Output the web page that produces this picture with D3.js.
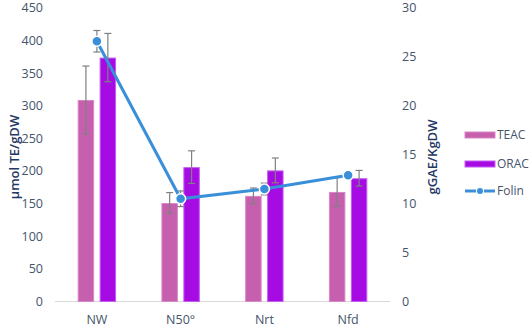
<!DOCTYPE html>
<html>
<head>
<meta charset="utf-8">
<script src="https://cdn.jsdelivr.net/npm/d3@7"></script>
<style>
  body { margin: 0; background: #fff; }
  text { font-family: "Open Sans", "Noto Sans", sans-serif; }
</style>
</head>
<body>
<div id="chart"></div>
<script>
// data
const categories = ["NW", "N50°", "Nrt", "Nfd"];
const teac = [309, 151, 162, 168];
const teacErr = [52, 16, 12, 22];
const orac = [374, 206, 201, 189];
const oracErr = [37, 25, 19, 12];
const folin = [26.6, 10.5, 11.5, 12.9];
const folinErr = [1.1, 0.8, 0.6, 0.3];
const leftTicks = [0, 50, 100, 150, 200, 250, 300, 350, 400, 450];
const rightTicks = [0, 5, 10, 15, 20, 25, 30];

const width = 532, height = 329;
const plot = { left: 55, right: 390, top: 8, bottom: 301.5 };
const fs = "12.5px";

const svg = d3.select("#chart").append("svg")
  .attr("width", width)
  .attr("height", height);

// scales
const x = d3.scaleBand()
  .domain(categories)
  .range([plot.left, plot.right])
  .padding(0);

const groupW = 38.4;
const xSub = d3.scaleBand()
  .domain(["TEAC", "ORAC"])
  .range([(x.bandwidth() - groupW) / 2, (x.bandwidth() + groupW) / 2])
  .paddingInner(0.25)
  .paddingOuter(0);

const yL = d3.scaleLinear().domain([0, 450]).range([plot.bottom, plot.top]);
const yR = d3.scaleLinear().domain([0, 30]).range([plot.bottom, plot.top]);

const tickColor = "#44546a";
const titleColor = "#1f3864";

// left axis labels
svg.append("g")
  .selectAll("text")
  .data(leftTicks)
  .enter().append("text")
    .attr("x", 43)
    .attr("y", d => yL(d))
    .attr("dy", "0.35em")
    .attr("text-anchor", "end")
    .attr("font-size", fs)
    .attr("fill", tickColor)
    .text(d => d);

// right axis labels
svg.append("g")
  .selectAll("text")
  .data(rightTicks)
  .enter().append("text")
    .attr("x", 402)
    .attr("y", d => yR(d))
    .attr("dy", "0.35em")
    .attr("text-anchor", "start")
    .attr("font-size", fs)
    .attr("fill", tickColor)
    .text(d => d);

// axis titles
svg.append("text")
  .attr("transform", "translate(14,157) rotate(-90)")
  .attr("dy", "0.35em")
  .attr("text-anchor", "middle")
  .attr("font-size", "13px")
  .attr("font-weight", 600)
  .attr("fill", titleColor)
  .text("μmol TE/gDW");

svg.append("text")
  .attr("transform", "translate(432,157) rotate(-90)")
  .attr("dy", "0.35em")
  .attr("text-anchor", "middle")
  .attr("font-size", "13px")
  .attr("font-weight", 600)
  .attr("fill", titleColor)
  .text("gGAE/KgDW");

// baseline
svg.append("line")
  .attr("x1", plot.left).attr("x2", plot.right)
  .attr("y1", plot.bottom).attr("y2", plot.bottom)
  .attr("stroke", "#d9d9d9")
  .attr("stroke-width", 1);

// category labels
svg.append("g")
  .selectAll("text")
  .data(categories)
  .enter().append("text")
    .attr("x", d => x(d) + x.bandwidth() / 2)
    .attr("y", 320)
    .attr("dy", "0.35em")
    .attr("text-anchor", "middle")
    .attr("font-size", fs)
    .attr("fill", tickColor)
    .text(d => d);

// bars
const series = [
  { key: "TEAC", values: teac, err: teacErr, fill: "#c55fae", stroke: "#d987c6" },
  { key: "ORAC", values: orac, err: oracErr, fill: "#a60be3", stroke: "#c45ef0" }
];

const errColor = "#808080";

series.forEach(s => {
  const g = svg.append("g");
  g.selectAll("rect")
    .data(categories)
    .enter().append("rect")
      .attr("x", (d) => x(d) + xSub(s.key) + 0.5)
      .attr("y", (d, i) => yL(s.values[i]) + 0.5)
      .attr("width", xSub.bandwidth() - 1)
      .attr("height", (d, i) => plot.bottom - yL(s.values[i]) - 0.5)
      .attr("fill", s.fill)
      .attr("stroke", s.stroke)
      .attr("stroke-width", 1);
});

// error bars for bars
function drawErr(cx, yHi, yLo) {
  const g = svg.append("g").attr("stroke", errColor).attr("stroke-width", 1.2);
  g.append("line").attr("x1", cx).attr("x2", cx).attr("y1", yHi).attr("y2", yLo);
  g.append("line").attr("x1", cx - 3.5).attr("x2", cx + 3.5).attr("y1", yHi).attr("y2", yHi);
  g.append("line").attr("x1", cx - 3.5).attr("x2", cx + 3.5).attr("y1", yLo).attr("y2", yLo);
}

series.forEach(s => {
  categories.forEach((c, i) => {
    const cx = x(c) + xSub(s.key) + xSub.bandwidth() / 2;
    drawErr(cx, yL(s.values[i] + s.err[i]), yL(s.values[i] - s.err[i]));
  });
});

// folin error bars
categories.forEach((c, i) => {
  const cx = x(c) + x.bandwidth() / 2;
  drawErr(cx, yR(folin[i] + folinErr[i]), yR(folin[i] - folinErr[i]));
});

// folin line
const lineColor = "#3a8fd9";
const line = d3.line()
  .x((d, i) => x(categories[i]) + x.bandwidth() / 2)
  .y(d => yR(d));

svg.append("path")
  .datum(folin)
  .attr("d", line)
  .attr("fill", "none")
  .attr("stroke", lineColor)
  .attr("stroke-width", 3);

svg.append("g")
  .selectAll("circle")
  .data(folin)
  .enter().append("circle")
    .attr("cx", (d, i) => x(categories[i]) + x.bandwidth() / 2)
    .attr("cy", d => yR(d))
    .attr("r", 5)
    .attr("fill", lineColor)
    .attr("stroke", "#fff")
    .attr("stroke-width", 1.5);

// legend
const legend = svg.append("g").attr("transform", "translate(465,0)");
legend.append("rect").attr("x", 0).attr("y", 132).attr("width", 30).attr("height", 6)
  .attr("fill", series[0].fill).attr("stroke", series[0].stroke);
legend.append("rect").attr("x", 0).attr("y", 161).attr("width", 30).attr("height", 6)
  .attr("fill", series[1].fill).attr("stroke", series[1].stroke);
legend.append("line").attr("x1", 0).attr("x2", 11).attr("y1", 191).attr("y2", 191)
  .attr("stroke", lineColor).attr("stroke-width", 3);
legend.append("line").attr("x1", 19).attr("x2", 30).attr("y1", 191).attr("y2", 191)
  .attr("stroke", lineColor).attr("stroke-width", 3);
legend.append("circle").attr("cx", 15).attr("cy", 191).attr("r", 3)
  .attr("fill", lineColor);

legend.selectAll("text.lbl")
  .data([["TEAC", 135], ["ORAC", 164], ["Folin", 191]])
  .enter().append("text")
    .attr("class", "lbl")
    .attr("x", 32)
    .attr("y", d => d[1])
    .attr("dy", "0.35em")
    .attr("font-size", "12px")
    .attr("fill", tickColor)
    .text(d => d[0]);
</script>
</body>
</html>
